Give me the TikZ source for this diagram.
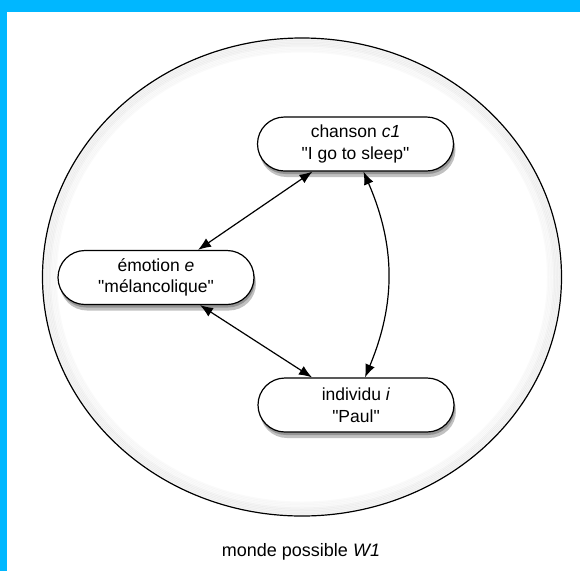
\documentclass[tikz,border=0pt]{standalone}
\usepackage{fontspec}
\setmainfont{Liberation Sans}[Ligatures=TeXOff]
\usetikzlibrary{calc}
\usetikzlibrary{shadows}
\usetikzlibrary{arrows.meta}

\definecolor{cadre}{RGB}{0,183,255}

\tikzset{
  etat/.style={draw, line width=1.2pt, fill=white, rounded corners=27pt,
    minimum width=196pt, minimum height=54pt, align=center,
    font=\fontsize{17.5}{21.5}\selectfont,
    drop shadow={shadow xshift=1pt, shadow yshift=-3pt, opacity=0.25, fill=black},
    drop shadow={shadow xshift=2pt, shadow yshift=-6pt, opacity=0.3, fill=black!80}},
  lien/.style={{Latex[length=13pt,width=10pt]}-{Latex[length=13pt,width=10pt]}, line width=1.2pt}
}

\begin{document}
\begin{tikzpicture}[x=1pt,y=-1pt]
			% Define the frame
			\useasboundingbox (0,0) rectangle (580,571);
			\fill[white] (0,0) rectangle (580,571);
			\fill[cadre] (0,0) rectangle (580,12);
			\fill[cadre] (0,0) rectangle (7,571);

			% Define the coordinates of the points
			\coordinate (monde) at (302,277);
			\coordinate (c) at (355.5,144);
			\coordinate (e) at (156,277.5);
			\coordinate (i) at (356,405);

			% Draw the world
			\foreach \r in {1.5,3,...,13.5}
			  \draw[black, opacity=0.018, line width=2pt] (monde) ellipse [x radius=259.5pt-\r pt, y radius=239pt-\r pt];
			\foreach \r in {1.5,3,...,7.5}
			  \draw[black, opacity=0.018, line width=2pt] (monde) ellipse [x radius=259.5pt-\r pt, y radius=239pt-\r pt];
			\draw[line width=1.2pt] (monde) ellipse [x radius=259.5pt, y radius=239pt];
			\node[font=\fontsize{18}{22}\selectfont] (w) at (301,552) {monde possible \textit{W1}};

			% Draw the nodes
			\node[etat] (chanson) at (c) {chanson \textit{c1}\\"I go to sleep"};
			\node[etat] (emotion) at (e) {émotion \textit{e}\\"mélancolique"};
			\node[etat] (individu) at (i) {individu \textit{i}\\"Paul"};

			% Draw the lines
			\draw[lien] ($(chanson.south)+(-43,0)$) -- ($(emotion.north)+(42,0)$);
			\draw[lien] ($(emotion.south)+(44,0)$) -- ($(individu.north)+(-44,0)$);
			\draw[lien] ($(chanson.south)+(8,0)$) to[bend left=23] ($(individu.north)+(9,0)$);
\end{tikzpicture}
\end{document}
